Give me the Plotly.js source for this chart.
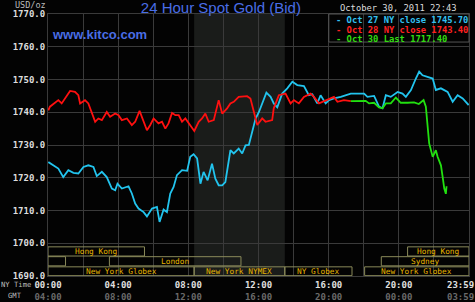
<!DOCTYPE html>
<html><head><meta charset="utf-8">
<script src="https://cdn.plot.ly/plotly-3.0.1.min.js"></script>
<style>html,body{margin:0;padding:0;background:#000;}#chart{width:475px;height:302px;}</style>
</head><body><div id="chart"></div>
<script>
// ---- data (NY time in hours) ----
const oct27Hours = [0.02,0.30,0.59,0.87,1.16,1.45,1.73,2.02,2.30,2.59,2.78,3.07,3.35,3.64,3.83,3.96,4.21,4.59,4.78,4.97,5.16,5.45,5.64,5.93,6.21,6.36,6.59,6.78,6.97,7.16,7.35,7.64,7.93,8.11,8.30,8.50,8.69,8.87,9.10,9.35,9.54,9.73,9.93,10.11,10.40,10.59,10.87,11.07,11.26,11.45,11.64,11.83,12.02,12.21,12.45,12.69,12.87,13.07,13.35,13.64,13.93,14.21,14.59,14.87,15.07,15.35,15.54,15.83,16.02,16.30,16.69,17.26,18.02,18.21,18.59,18.87,19.07,19.26,19.54,19.93,20.21,20.40,20.69,20.97,21.16,21.35,21.64,21.93,22.11,22.40,22.78,23.07,23.35,23.64,23.98];
const oct27Values = [1724.8,1723.8,1722.8,1720.2,1722.3,1721.5,1721.3,1723.3,1723.8,1723.3,1720.5,1721.8,1720.2,1716.7,1716.2,1718.2,1716.7,1717.4,1715.2,1712.1,1710.6,1709.5,1708.2,1710.6,1711.1,1706.5,1710.3,1709.5,1715.2,1717.2,1720.8,1722.3,1722.1,1726.4,1727.2,1725.9,1718.2,1721.8,1719.2,1724.3,1719.7,1717.7,1717.7,1718.7,1728.4,1727.4,1728.9,1727.4,1729.9,1730.0,1734.5,1738.0,1740.0,1742.5,1746.0,1744.7,1742.7,1741.5,1745.7,1747.3,1749.3,1748.3,1748.0,1745.2,1745.5,1742.7,1745.2,1742.7,1743.7,1744.2,1744.7,1745.7,1745.7,1744.7,1745.0,1741.7,1741.2,1745.2,1744.7,1746.2,1745.7,1744.7,1746.8,1750.3,1752.4,1751.3,1750.8,1750.3,1746.8,1747.3,1746.2,1743.2,1745.2,1744.2,1742.2];

const oct28Hours = [0.02,0.11,0.59,0.78,1.16,1.26,1.54,1.73,1.83,2.11,2.30,2.50,2.69,2.87,3.07,3.35,3.54,3.83,4.02,4.21,4.50,4.78,4.97,5.22,5.35,5.64,5.83,6.02,6.30,6.50,6.69,6.87,7.07,7.26,7.45,7.64,7.83,8.02,8.34,8.59,8.78,8.97,9.16,9.45,9.73,9.93,10.21,10.40,10.59,10.87,11.35,11.54,11.73,11.93,12.21,12.40,12.78,12.87,13.16,13.54,13.83,14.02,14.30,14.59,14.97,15.16,15.45,15.83,16.30,16.50,16.87,17.26];
const oct28Values = [1740.6,1741.7,1743.7,1742.7,1745.7,1746.5,1746.2,1745.2,1742.7,1743.7,1742.7,1739.6,1737.1,1738.1,1737.6,1740.1,1738.6,1739.6,1739.1,1737.6,1738.1,1736.1,1737.1,1740.4,1738.6,1734.5,1736.1,1738.1,1736.6,1737.1,1735.0,1736.6,1739.8,1739.1,1739.1,1737.1,1738.1,1736.6,1734.3,1737.1,1738.1,1739.6,1737.1,1737.6,1743.7,1739.6,1741.2,1742.7,1743.2,1744.7,1744.9,1744.2,1740.6,1736.1,1738.1,1737.1,1737.6,1741.2,1745.2,1745.7,1742.7,1743.7,1742.7,1744.7,1745.7,1744.7,1742.7,1743.7,1744.7,1743.2,1743.7,1743.4];

const oct30Hours = [17.26,18.11,18.30,18.59,18.87,19.07,19.26,19.54,19.83,20.11,20.50,20.87,21.14,21.41,21.54,21.64,21.73,21.93,22.11,22.21,22.40,22.50,22.59,22.68,22.72];
const oct30Values = [1743.4,1743.5,1742.7,1742.9,1741.5,1741.2,1742.7,1742.7,1744.5,1742.9,1742.9,1743.0,1742.5,1743.7,1741.7,1736.6,1730.5,1726.4,1728.4,1726.4,1723.8,1720.2,1716.7,1715.1,1717.4];

const legendLabels = ['- Oct 27 NY close 1745.70','- Oct 28 NY close 1743.40','- Oct 30 Last 1717.40'];
const tickHours = [0,4,8,12,16,20,23.52];
const nyLabels = ['00:00','04:00','08:00','12:00','16:00','20:00','23:59'];
const gmtLabels = ['04:00','08:00','12:00','16:00','20:00','00:00','03:59'];

const sessionNames = ['Hong Kong','Hong Kong','','London','Sydney','New York Globex','New York NYMEX','NY Globex','New York Globex'];
const sessionStart = [0,20.5,0,3.5,19,0,8.33,13.5,18.05];
const sessionEnd   = [5.5,24,1,11,24,8.33,13.5,17.33,24];
const sessionRow   = [1,1,2,2,2,3,3,3,3];
const pitStart = 8.33, pitEnd = 13.5;

// ---- styling ----
const mono = 'DejaVu Sans Mono, Liberation Mono, monospace';
const gridC = '#3a3a3a';
const colors = ['#22c4ee','#ff1010','#22e010'];
const legendColors = ['#33c0f0','#ff2020','#33dd11'];
const rowY = {1:[1696.1,1698.9],2:[1693.1,1695.9],3:[1690.1,1692.8]};

const traces = [
  {x:oct27Hours,y:oct27Values,mode:'lines',line:{color:colors[0],width:1.8}},
  {x:oct28Hours,y:oct28Values,mode:'lines',line:{color:colors[1],width:1.8}},
  {x:oct30Hours,y:oct30Values,mode:'lines',line:{color:colors[2],width:1.8}}
];

const shapes = [
  {type:'rect',xref:'x',yref:'paper',x0:pitStart,x1:pitEnd,y0:0,y1:1,fillcolor:'#1a1c1a',line:{width:0},layer:'below'},
  {type:'rect',xref:'paper',yref:'paper',x0:0.667,x1:1,y0:0.893,y1:1,fillcolor:'rgba(0,0,0,0)',line:{color:'#555',width:1}}
];
const annotations = [];
sessionNames.forEach((n,i)=>{
  const r = rowY[sessionRow[i]];
  shapes.push({type:'rect',xref:'x',yref:'y',x0:sessionStart[i],x1:sessionEnd[i],y0:r[0],y1:r[1],line:{color:'#8a8a5a',width:1},fillcolor:'rgba(0,0,0,0)'});
  if(n) annotations.push({xref:'x',yref:'y',x:(sessionStart[i]+sessionEnd[i])/2,y:(r[0]+r[1])/2,text:n,showarrow:false,font:{family:mono,size:7.8,color:'#e6b400'},xanchor:'center',yanchor:'middle'});
});
const legY = [0.977,0.939,0.904];
legendLabels.forEach((t,i)=>{
  annotations.push({xref:'paper',yref:'paper',x:0.679,y:legY[i],text:t,showarrow:false,xanchor:'left',yanchor:'middle',font:{family:mono,size:8.8,weight:'bold',color:legendColors[i]}});
});
annotations.push({xref:'paper',yref:'paper',x:0.976,y:1.023,text:'October 30, 2011 22:43',showarrow:false,xanchor:'right',yanchor:'middle',font:{family:mono,size:8.8,color:'#dddddd'}});
annotations.push({xref:'paper',yref:'paper',x:0.004,y:0.921,text:'www.kitco.com',showarrow:false,xanchor:'left',yanchor:'middle',font:{family:'Liberation Sans, Arial, sans-serif',size:13,weight:'bold',color:'#4a6ee6'}});
annotations.push({xref:'paper',yref:'paper',x:-0.083,y:1.034,text:'USD/oz',showarrow:false,xanchor:'left',yanchor:'middle',font:{family:mono,size:8.5,color:'#bbbbbb'}});
annotations.push({xref:'paper',yref:'paper',x:-0.116,y:-0.034,text:'NY Time',showarrow:false,xanchor:'left',yanchor:'middle',font:{family:mono,size:7.2,color:'#bbbbbb'}});
annotations.push({xref:'paper',yref:'paper',x:-0.099,y:-0.076,text:'GMT',showarrow:false,xanchor:'left',yanchor:'middle',font:{family:mono,size:7.2,color:'#bbbbbb'}});

const layout = {
  width:475,height:302,
  margin:{l:48,r:6,t:14,b:26},
  paper_bgcolor:'#030303',plot_bgcolor:'#030303',
  showlegend:false,
  title:{text:'24 Hour Spot Gold (Bid)',x:0.465,xref:'container',xanchor:'center',y:0.974,yref:'container',yanchor:'middle',font:{family:'Liberation Sans, Arial, sans-serif',size:15,color:'#4a6ee6'}},
  xaxis:{range:[0,24],tickmode:'array',tickvals:tickHours,
    ticktext:nyLabels.map((t,i)=>t+"<br><span style='color:#6a6a6a'>"+gmtLabels[i]+"</span>"),
    showgrid:false,zeroline:false,ticks:'',showline:true,mirror:true,linecolor:gridC,
    tickfont:{family:mono,size:9,weight:'bold',color:'#e0e0e0'},
    minor:{tickmode:'linear',tick0:0,dtick:2,showgrid:true,gridcolor:gridC,gridwidth:1,ticks:''}},
  yaxis:{range:[1690,1770],dtick:10,tick0:1690,tickformat:'.1f',showgrid:true,gridcolor:gridC,zeroline:false,
    showline:true,mirror:true,linecolor:gridC,ticks:'',
    tickfont:{family:mono,size:9,weight:'bold',color:'#dddddd'}},
  shapes:shapes,annotations:annotations
};
Plotly.newPlot('chart',traces,layout,{displayModeBar:false,staticPlot:true});
</script></body></html>
